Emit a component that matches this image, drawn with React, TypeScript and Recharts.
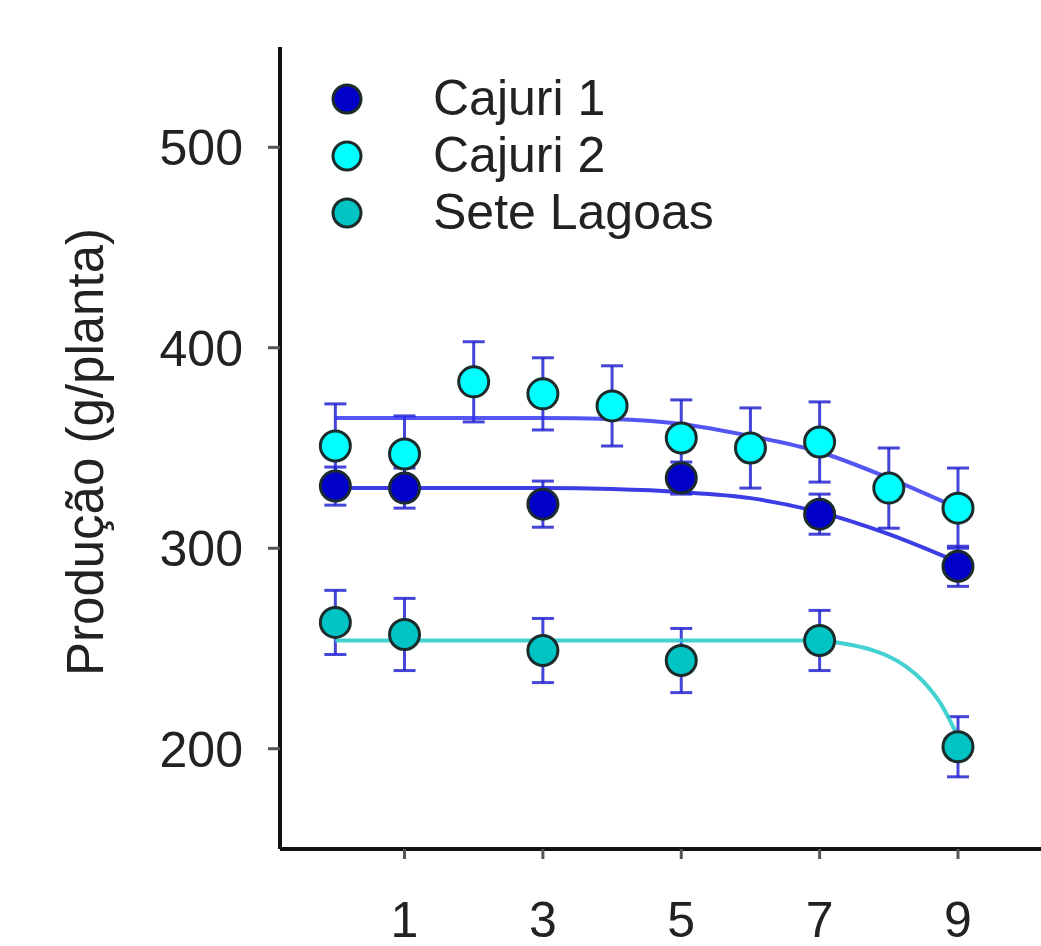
import {
  ComposedChart,
  ErrorBar,
  Line,
  Scatter,
  XAxis,
  YAxis,
} from "recharts";

const FONT = '"Liberation Sans", Arial, sans-serif';
const TEXT = "#222";

// observed points (x = year, y = production, err = half error bar)
const xCajuri1 = [0, 1, 3, 5, 7, 9];
const yCajuri1 = [331, 330, 322, 335, 317, 291];
const errCajuri1 = [9.5, 10, 11.5, 8, 10, 10];

const xCajuri2 = [0, 1, 2, 3, 4, 5, 6, 7, 8, 9];
const yCajuri2 = [351, 347, 383, 377, 371, 355, 350, 353, 330, 320];
const errCajuri2 = [21, 19, 20, 18, 20, 19, 20, 20, 20, 20];

const xSete = [0, 1, 3, 5, 7, 9];
const ySete = [263, 257, 249, 244, 254, 201];
const errSete = [16, 18, 16, 16, 15, 15];

// fitted curves
const xFit = [0, 1, 2, 3, 4, 5, 6, 7, 8, 9];
const fitCajuri1 = [330, 330, 330, 330, 329.5, 328, 325, 318, 307, 293];
const fitCajuri2 = [365, 365, 365, 365, 364.5, 362, 356, 348, 335, 320];
const xFitSete = [0, 7, 7.25, 7.5, 7.75, 8, 8.25, 8.5, 8.75, 9];
const fitSete = [254, 254, 253, 251.5, 249.3, 246, 241, 233.5, 222.5, 206];

const xTicks = [1, 3, 5, 7, 9];
const yTicks = [200, 300, 400, 500];

const series = [
  { name: "Cajuri 1", fill: "#0000c8" },
  { name: "Cajuri 2", fill: "#00ffff" },
  { name: "Sete Lagoas", fill: "#00c4c4" },
];

const points = (xs: number[], ys: number[], errs: number[]) =>
  xs.map((x, i) => ({ x, y: ys[i], err: errs[i] }));
const curve = (xs: number[], ys: number[]) => xs.map((x, i) => ({ x, y: ys[i] }));

const dot = (fill: string) => (props: any) =>
  <circle cx={props.cx} cy={props.cy} r={15} fill={fill} stroke="#1c2c2c" strokeWidth={3} />;

function ChartLegend() {
  return (
    <div style={{ position: "absolute", left: 330, top: 70, fontFamily: FONT, fontSize: 50, color: TEXT }}>
      {series.map((s) => (
        <div key={s.name} style={{ display: "flex", alignItems: "center", height: 57 }}>
          <svg width={34} height={34}>
            <circle cx={17} cy={17} r={14} fill={s.fill} stroke="#1c2c2c" strokeWidth={3} />
          </svg>
          <span style={{ marginLeft: 69, lineHeight: "57px", whiteSpace: "nowrap" }}>{s.name}</span>
        </div>
      ))}
    </div>
  );
}

export default function App() {
  return (
    <div style={{ position: "absolute", left: 0, top: 0, width: 1041, height: 946, background: "#fff" }}>
      <ComposedChart width={1041} height={946} margin={{ top: 47, right: 0, bottom: 0, left: 0 }}>
        <XAxis
          dataKey="x"
          type="number"
          domain={[-0.8, 10.2]}
          ticks={xTicks}
          allowDataOverflow
          height={97}
          tickSize={10}
          tickMargin={42}
          axisLine={{ stroke: "#111", strokeWidth: 4 }}
          tickLine={{ stroke: "#555", strokeWidth: 3 }}
          tick={{ fill: TEXT, fontSize: 50, fontFamily: FONT }}
        />
        <YAxis
          dataKey="y"
          type="number"
          domain={[150, 550]}
          ticks={yTicks}
          allowDataOverflow
          width={280}
          tickSize={12}
          tickMargin={25}
          axisLine={{ stroke: "#111", strokeWidth: 4 }}
          tickLine={{ stroke: "#555", strokeWidth: 3 }}
          tick={{ fill: TEXT, fontSize: 50, fontFamily: FONT }}
          label={{
            content: () => (
              <text
                x={85}
                y={452}
                transform="rotate(-90 85 452)"
                textAnchor="middle"
                dominantBaseline="central"
                fill={TEXT}
                fontSize={51}
                fontFamily={FONT}
              >
                Produção (g/planta)
              </text>
            ),
          }}
        />
        <Scatter
          name="Cajuri 1"
          data={points(xCajuri1, yCajuri1, errCajuri1)}
          dataKey="y"
          shape={dot(series[0].fill)}
          isAnimationActive={false}
        >
          <ErrorBar dataKey="err" direction="y" width={11} stroke="#2424d0" strokeWidth={3} strokeOpacity={0.85} />
        </Scatter>
        <Scatter
          name="Cajuri 2"
          data={points(xCajuri2, yCajuri2, errCajuri2)}
          dataKey="y"
          shape={dot(series[1].fill)}
          isAnimationActive={false}
        >
          <ErrorBar dataKey="err" direction="y" width={11} stroke="#2424d0" strokeWidth={3} strokeOpacity={0.85} />
        </Scatter>
        <Scatter
          name="Sete Lagoas"
          data={points(xSete, ySete, errSete)}
          dataKey="y"
          shape={dot(series[2].fill)}
          isAnimationActive={false}
        >
          <ErrorBar dataKey="err" direction="y" width={11} stroke="#2424d0" strokeWidth={3} strokeOpacity={0.85} />
        </Scatter>
        <Line
          data={curve(xFit, fitCajuri1)}
          dataKey="y"
          type="monotone"
          stroke="#1a1ae0"
          strokeWidth={4}
          strokeOpacity={0.85}
          dot={false}
          activeDot={false}
          legendType="none"
          isAnimationActive={false}
        />
        <Line
          data={curve(xFit, fitCajuri2)}
          dataKey="y"
          type="monotone"
          stroke="#2a2af0"
          strokeWidth={4}
          strokeOpacity={0.8}
          dot={false}
          activeDot={false}
          legendType="none"
          isAnimationActive={false}
        />
        <Line
          data={curve(xFitSete, fitSete)}
          dataKey="y"
          type="monotone"
          stroke="#30cccc"
          strokeWidth={4}
          strokeOpacity={0.9}
          dot={false}
          activeDot={false}
          legendType="none"
          isAnimationActive={false}
        />
      </ComposedChart>
      <ChartLegend />
    </div>
  );
}
